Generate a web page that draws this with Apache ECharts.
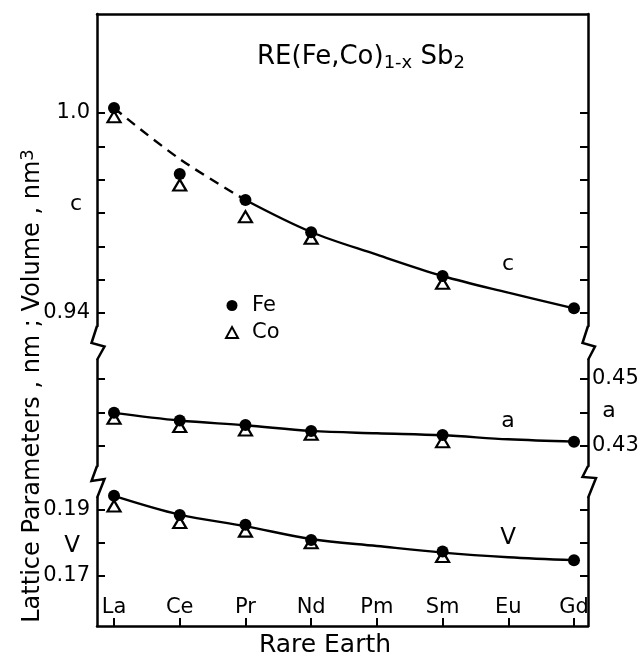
<!DOCTYPE html>
<html>
<head>
<meta charset="utf-8">
<script src="https://cdn.jsdelivr.net/npm/echarts@6/dist/echarts.min.js"></script>
<style>
  html, body { margin: 0; padding: 0; background: #fff; }
  #chart { width: 641px; height: 656px; }
</style>
</head>
<body>
<div id="chart"></div>
<script>
// ============ 数据 ============
const rareEarths = ['La', 'Ce', 'Pr', 'Nd', 'Pm', 'Sm', 'Eu', 'Gd']

// c (nm)
const feC = [1.0015, 0.9817, 0.9739, 0.9642, null, 0.9511, null, 0.9414]
const coC = [0.9989, 0.9784, 0.9689, 0.9624, null, 0.9489, null, null]
const fitC = [1.0015, 0.9862, 0.9739, 0.9643, 0.9575, 0.9511, 0.9461, 0.9414]

// a (nm)
const feA = [0.4399, 0.4376, 0.4363, 0.4345, null, 0.4333, null, 0.4313]
const coA = [0.4383, 0.4358, 0.4348, 0.4335, null, 0.4313, null, null]
const fitA = [0.4399, 0.4376, 0.4362, 0.4345, 0.4338, 0.4332, 0.4320, 0.4313]

// V (nm3)
const feV = [0.1943, 0.1885, 0.1855, 0.1809, null, 0.1774, null, 0.1748]
const coV = [0.1912, 0.1862, 0.1836, 0.1801, null, 0.1759, null, null]
const fitV = [0.1943, 0.1886, 0.1851, 0.1812, 0.1791, 0.1771, 0.1757, 0.1748]

// 刻度
const cTicks = [0.94, 0.95, 0.96, 0.97, 0.98, 0.99, 1.0]
const cLabels = [0.94, 1.0]
const aTicks = [0.43, 0.44, 0.45]
const aLabels = [0.43, 0.45]
const vTicks = [0.17, 0.18, 0.19]
const vLabels = [0.17, 0.19]
const xTicks = [0, 1, 2, 3, 4, 5, 6, 7]

// ============ 样式常量 ============
const FONT = 'DejaVu Sans'
const INK = '#000'

const chart = echarts.init(document.getElementById('chart'), null, { renderer: 'canvas' })

function pairs(arr) {
  return arr.map((v, i) => (v == null ? null : [i, v])).filter(Boolean)
}

function xAxisOf(gridIndex, extra) {
  return Object.assign({
    type: 'value',
    gridIndex,
    min: -0.259,
    max: 7.213,
    splitLine: { show: false },
    axisLine: { show: true, onZero: false, lineStyle: { color: INK, width: 2.5 } },
    axisTick: { show: false },
    axisLabel: { show: false }
  }, extra)
}

function yAxisOf(gridIndex, position, min, max, ticks, labels) {
  return {
    type: 'value',
    gridIndex,
    position,
    min,
    max,
    splitLine: { show: false },
    axisLine: { show: true, onZero: false, lineStyle: { color: INK, width: 2.5 } },
    axisTick: {
      show: true,
      inside: true,
      length: 8,
      customValues: ticks,
      lineStyle: { color: INK, width: 2 }
    },
    axisLabel: {
      show: labels.length > 0,
      customValues: labels,
      margin: position === 'left' ? 7 : 4,
      color: INK,
      fontFamily: FONT,
      fontSize: 21,
      formatter: v => (v >= 1 ? v.toFixed(1) : v.toFixed(2))
    }
  }
}

function fitLine(name, xi, yi, data, dashed) {
  return {
    name,
    type: 'line',
    xAxisIndex: xi,
    yAxisIndex: yi,
    data,
    smooth: 0.35,
    showSymbol: false,
    silent: true,
    clip: false,
    z: 2,
    lineStyle: { color: INK, width: 2.4, opacity: 1, type: dashed ? [10, 7] : 'solid' }
  }
}

function feSeries(xi, yi, arr) {
  return {
    name: 'Fe',
    type: 'scatter',
    xAxisIndex: xi,
    yAxisIndex: yi,
    data: pairs(arr),
    symbol: 'circle',
    symbolSize: 12,
    clip: false,
    z: 4,
    itemStyle: { color: INK, opacity: 1 }
  }
}

function coSeries(xi, yi, arr) {
  return {
    name: 'Co',
    type: 'scatter',
    xAxisIndex: xi,
    yAxisIndex: yi,
    data: pairs(arr),
    symbol: 'triangle',
    symbolSize: [13, 11],
    clip: false,
    z: 3,
    itemStyle: { color: '#fff', borderColor: INK, borderWidth: 2.2, opacity: 1 }
  }
}

function zigzag(points) {
  return {
    type: 'polyline',
    shape: { points },
    style: { stroke: INK, lineWidth: 2.5, fill: null },
    silent: true
  }
}

function note(text, x, y, size) {
  return {
    type: 'text',
    x,
    y,
    style: {
      text,
      fill: INK,
      font: (size || 22) + 'px "' + FONT + '"',
      align: 'center',
      verticalAlign: 'middle'
    },
    silent: true
  }
}

const option = {
  animation: false,
  backgroundColor: '#fff',
  grid: [
    { left: 97, right: 53, top: 14, height: 312, outerBoundsMode: 'none' },
    { left: 97, right: 53, top: 360, height: 106, outerBoundsMode: 'none' },
    { left: 97, right: 53, top: 498, height: 128, outerBoundsMode: 'none' }
  ],
  xAxis: [
    xAxisOf(0, { position: 'top' }),
    xAxisOf(1, { show: false }),
    xAxisOf(2, {
      position: 'bottom',
      axisTick: {
        show: true,
        inside: true,
        length: 8,
        customValues: xTicks,
        lineStyle: { color: INK, width: 2 }
      },
      axisLabel: {
        show: true,
        inside: true,
        margin: 8,
        customValues: xTicks,
        color: INK,
        fontFamily: FONT,
        fontSize: 21,
        formatter: v => rareEarths[Math.round(v)]
      }
    })
  ],
  yAxis: [
    yAxisOf(0, 'left', 0.9361, 1.0297, cTicks, cLabels),
    yAxisOf(0, 'right', 0.9361, 1.0297, cTicks, []),
    yAxisOf(1, 'left', 0.42403, 0.45567, aTicks, []),
    yAxisOf(1, 'right', 0.42403, 0.45567, aTicks, aLabels),
    yAxisOf(2, 'left', 0.15485, 0.19364, vTicks, vLabels),
    yAxisOf(2, 'right', 0.15485, 0.19364, vTicks, [])
  ],
  legend: {
    orient: 'vertical',
    left: 220,
    top: 290,
    itemWidth: 12,
    itemHeight: 11,
    itemGap: 6,
    selectedMode: false,
    textStyle: { color: INK, fontFamily: FONT, fontSize: 21, padding: [0, 0, 0, 9] },
    data: [
      { name: 'Fe', icon: 'circle', itemStyle: { color: INK, opacity: 1 } },
      { name: 'Co', icon: 'triangle', itemStyle: { color: '#fff', borderColor: INK, borderWidth: 2, opacity: 1 } }
    ]
  },
  series: [
    fitLine('cFitDash', 0, 0, fitC.slice(0, 3).map((v, i) => [i, v]), true),
    fitLine('cFit', 0, 0, fitC.map((v, i) => [i, v]).slice(2), false),
    fitLine('aFit', 1, 2, fitA.map((v, i) => [i, v]), false),
    fitLine('vFit', 2, 4, fitV.map((v, i) => [i, v]), false),
    coSeries(0, 0, coC),
    coSeries(1, 2, coA),
    coSeries(2, 4, coV),
    feSeries(0, 0, feC),
    feSeries(1, 2, feA),
    feSeries(2, 4, feV)
  ],
  graphic: [
    // 断轴折线
    zigzag([[97, 326], [91.5, 343], [104.5, 346.5], [97, 360]]),
    zigzag([[97, 466], [91.5, 481], [104.5, 479], [97, 498]]),
    zigzag([[588, 326], [582.5, 343], [595, 346.5], [588, 360]]),
    zigzag([[588, 466], [582.5, 477], [596, 478], [588, 498]]),
    // 曲线标注
    note('c', 508, 264),
    note('a', 508, 421),
    note('V', 508, 538, 23),
    note('c', 76, 204),
    note('V', 72, 546, 23),
    note('a', 609, 411),
    // 标题
    {
      type: 'text',
      x: 361,
      y: 57,
      silent: true,
      style: {
        text: 'RE(Fe,Co){s|1-x} Sb{s|2}',
        fill: INK,
        fontFamily: FONT,
        fontSize: 26,
        align: 'center',
        verticalAlign: 'middle',
        rich: { s: { fontSize: 18, fontFamily: FONT, fill: INK, padding: [12, 0, 0, 0] } }
      }
    },
    // 纵轴标题
    {
      type: 'text',
      x: 33,
      y: 386,
      rotation: Math.PI / 2,
      silent: true,
      style: {
        text: 'Lattice Parameters , nm ; Volume , nm{p|3}',
        fill: INK,
        fontFamily: FONT,
        fontSize: 24,
        align: 'center',
        verticalAlign: 'middle',
        rich: { p: { fontSize: 18, fontFamily: FONT, fill: INK, padding: [0, 0, 10, 0] } }
      }
    },
    // 横轴标题
    note('Rare Earth', 325, 645, 25)
  ]
}

chart.setOption(option)
</script>
</body>
</html>
